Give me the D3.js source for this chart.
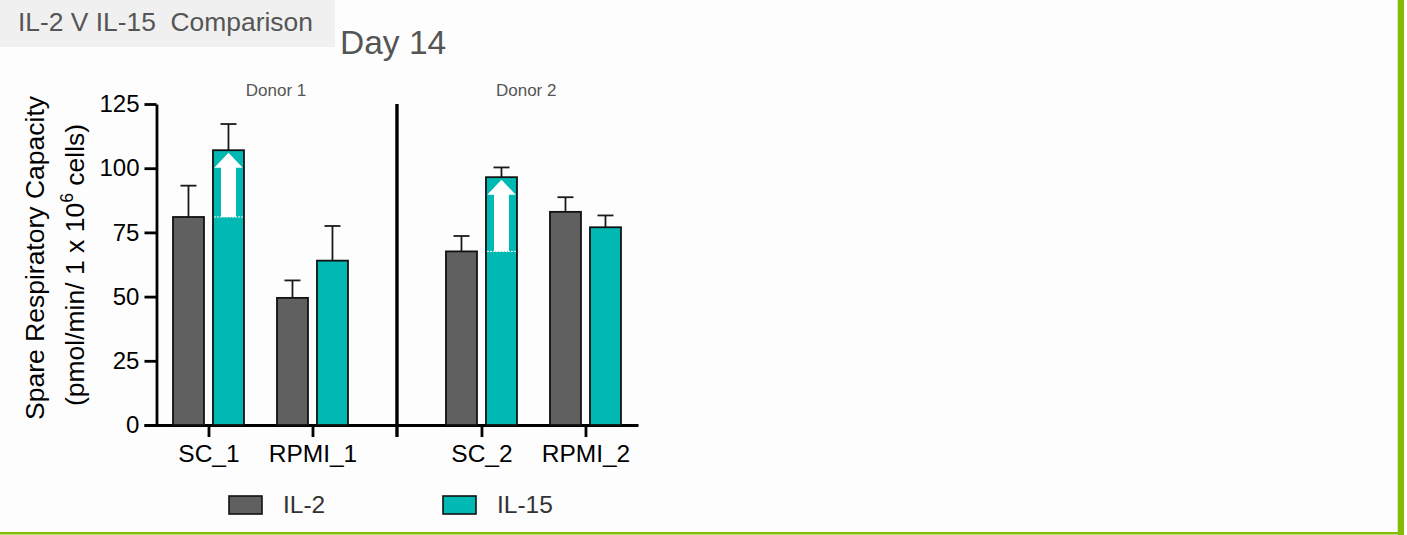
<!DOCTYPE html>
<html>
<head>
<meta charset="utf-8">
<script src="https://cdn.jsdelivr.net/npm/d3@7/dist/d3.min.js"></script>
<style>
  html, body { margin: 0; padding: 0; background: #ffffff; }
  svg { display: block; }
  text { font-family: "Liberation Sans", Arial, sans-serif; }
</style>
</head>
<body>
<svg id="chart" width="1407" height="535"></svg>
<script>
// Spare respiratory capacity, day 14, IL-2 vs IL-15 expansion
const categories = ["SC_1", "RPMI_1", "SC_2", "RPMI_2"];
const donorOf = [1, 1, 2, 2];
const donors = ["Donor 1", "Donor 2"];
const series = ["IL-2", "IL-15"];
const il2Mean = [81, 49.5, 67.6, 83];
const il2Err = [12.2, 6.8, 6.0, 5.7];
const il15Mean = [107, 64, 96.5, 77];
const il15Err = [10.2, 13.5, 3.8, 4.6];
const yTicks = [0, 25, 50, 75, 100, 125];
// categories where the IL-15 gain over IL-2 is highlighted with an arrow
const highlighted = ["SC_1", "SC_2"];

const colors = { "IL-2": "#606060", "IL-15": "#00b9b2" };
const FONT = "Liberation Sans, Arial, sans-serif";

const svg = d3.select("#chart");

// ---- page frame ----
svg.append("rect").attr("x", 0).attr("y", 0).attr("width", 1398).attr("height", 532).attr("fill", "#fdfdfd");
svg.append("rect").attr("x", 1397).attr("y", 0).attr("width", 1).attr("height", 532).attr("fill", "#dde8c8");
svg.append("rect").attr("x", 1398).attr("y", 0).attr("width", 6).attr("height", 535).attr("fill", "#84bc04");
svg.append("rect").attr("x", 0).attr("y", 532).attr("width", 1404).attr("height", 2.5).attr("fill", "#84bc04");

// header
svg.append("rect").attr("x", 0).attr("y", 0).attr("width", 335).attr("height", 47).attr("fill", "#f0f0f0");
svg.append("text").attr("x", 18).attr("y", 31).attr("font-size", 26.4).attr("fill", "#555")
  .attr("xml:space", "preserve").text("IL-2 V IL-15  Comparison");
svg.append("text").attr("x", 340).attr("y", 54).attr("font-size", 33.5).attr("fill", "#555").text("Day 14");

// ---- scales ----
// slot units: one slot per category, with an extra gap between the donors
const donorGap = 0.625;
const slotOf = (i) => i + (donorOf[i] - 1) * donorGap;
const x = d3.scaleLinear().domain([-0.62, 4.13]).range([144, 638]);
const y = d3.scaleLinear().domain([0, 125]).range([425, 104]);
const inner = d3.scaleBand().domain(series).range([-35.5, 35.5]).paddingInner(0.225);

const g = svg.append("g");

// ---- axes ----
const yAxis = g.append("g").attr("transform", `translate(${x(-0.5)},0)`)
  .call(d3.axisLeft(y).tickValues(yTicks).tickSize(12).tickPadding(5).tickSizeOuter(0));
yAxis.select(".domain").attr("stroke", "#000").attr("stroke-width", 2.8);
yAxis.selectAll(".tick line").attr("stroke", "#000").attr("stroke-width", 2.8);
yAxis.selectAll(".tick text").attr("font-size", 24).attr("fill", "#000").attr("font-family", FONT);

const sepSlot = (slotOf(1) + slotOf(2)) / 2;
const xAxis = g.append("g").attr("transform", `translate(0,${y(0)})`)
  .call(d3.axisBottom(x)
    .tickValues(categories.map((c, i) => slotOf(i)))
    .tickFormat((d, i) => categories[i])
    .tickSize(12).tickPadding(8).tickSizeOuter(0));
xAxis.select(".domain").attr("stroke", "#000").attr("stroke-width", 2.8);
xAxis.selectAll(".tick line").attr("stroke", "#000").attr("stroke-width", 2.8);
xAxis.selectAll(".tick text").attr("font-size", 24.5).attr("fill", "#000").attr("font-family", FONT);

// donor separator line and its tick
g.append("line").attr("x1", x(sepSlot)).attr("x2", x(sepSlot))
  .attr("y1", y(125)).attr("y2", y(0) + 12).attr("stroke", "#000").attr("stroke-width", 3.4);

// donor labels
const donorLabelSlot = [0.65, 3.055];
g.selectAll(".donor").data(donors).join("text")
  .attr("x", (d, i) => x(donorLabelSlot[i])).attr("y", 96)
  .attr("text-anchor", "middle").attr("font-size", 17).attr("fill", "#555").text(d => d);

// ---- bars ----
const rows = [];
categories.forEach((c, i) => {
  rows.push({ cat: c, i, s: "IL-2", v: il2Mean[i], e: il2Err[i] });
  rows.push({ cat: c, i, s: "IL-15", v: il15Mean[i], e: il15Err[i] });
});
const bx = d => x(slotOf(d.i)) + inner(d.s);

// error bars (upper only)
const eb = g.append("g");
eb.selectAll("line.stem").data(rows).join("line")
  .attr("x1", d => bx(d) + inner.bandwidth() / 2).attr("x2", d => bx(d) + inner.bandwidth() / 2)
  .attr("y1", d => y(d.v)).attr("y2", d => y(d.v + d.e))
  .attr("stroke", "#1a1a1a").attr("stroke-width", 1.8);
eb.selectAll("line.cap").data(rows).join("line")
  .attr("x1", d => bx(d) + inner.bandwidth() / 2 - 8).attr("x2", d => bx(d) + inner.bandwidth() / 2 + 8)
  .attr("y1", d => y(d.v + d.e)).attr("y2", d => y(d.v + d.e))
  .attr("stroke", "#1a1a1a").attr("stroke-width", 1.8);

g.append("g").selectAll("rect").data(rows).join("rect")
  .attr("x", d => bx(d)).attr("width", inner.bandwidth())
  .attr("y", d => y(d.v)).attr("height", d => y(0) - y(d.v))
  .attr("fill", d => colors[d.s]).attr("stroke", "#111").attr("stroke-width", 1.8);

// ---- gain arrows inside the IL-15 bars ----
const arrows = g.append("g");
highlighted.forEach(cat => {
  const i = categories.indexOf(cat);
  const left = x(slotOf(i)) + inner("IL-15");
  const cx = left + inner.bandwidth() / 2;
  const yBase = y(il2Mean[i]);
  const yTip = y(il15Mean[i]) + 2.5;
  const headH = 15, headHalf = inner.bandwidth() / 2 - 1.3, shaftHalf = 7.5;
  const path = d3.path();
  path.moveTo(cx - shaftHalf, yBase);
  path.lineTo(cx - shaftHalf, yTip + headH);
  path.lineTo(cx - headHalf, yTip + headH);
  path.lineTo(cx, yTip);
  path.lineTo(cx + headHalf, yTip + headH);
  path.lineTo(cx + shaftHalf, yTip + headH);
  path.lineTo(cx + shaftHalf, yBase);
  path.closePath();
  arrows.append("path").attr("d", path.toString()).attr("fill", "#fff");
  arrows.append("line")
    .attr("x1", left + 1).attr("x2", left + inner.bandwidth() - 1)
    .attr("y1", yBase).attr("y2", yBase)
    .attr("stroke", "#fff").attr("stroke-width", 1).attr("stroke-dasharray", "2,1");
});

// ---- y axis title ----
const yTitle = svg.append("text").attr("transform", "translate(44,258) rotate(-90)")
  .attr("text-anchor", "middle").attr("font-size", 26.5).attr("fill", "#000");
yTitle.append("tspan").text("Spare Respiratory Capacity");
const l2 = svg.append("text").attr("transform", "translate(84,265) rotate(-90)")
  .attr("text-anchor", "middle").attr("font-size", 26.5).attr("fill", "#000");
l2.append("tspan").text("(pmol/min/ 1 x 10");
l2.append("tspan").attr("font-size", 17.5).attr("dy", -11).text("6");
l2.append("tspan").attr("dy", 11).text(" cells)");

// ---- legend ----
const legendX = [229, 443];
const legend = svg.append("g");
series.forEach((s, k) => {
  legend.append("rect").attr("x", legendX[k]).attr("y", 496).attr("width", 33).attr("height", 18)
    .attr("fill", colors[s]).attr("stroke", "#111").attr("stroke-width", 1.6);
  legend.append("text").attr("x", legendX[k] + 54).attr("y", 513)
    .attr("font-family", "Roboto, sans-serif").attr("font-weight", 300)
    .attr("font-size", 24.5).attr("fill", "#333").text(s);
});
</script>
</body>
</html>
